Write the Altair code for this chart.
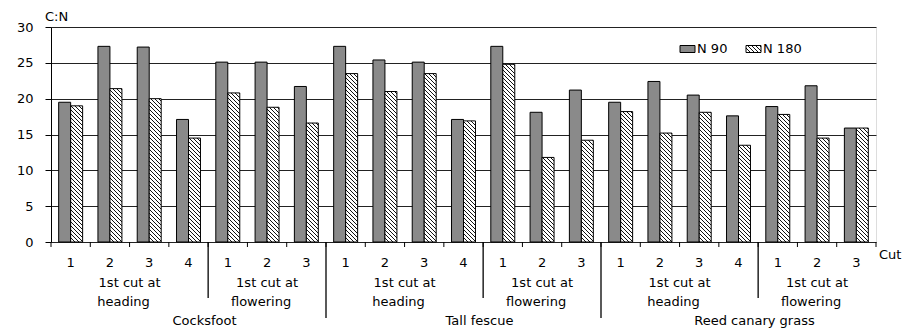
import altair as alt

# ---------------- data ----------------
species_names = ["Cocksfoot", "Tall fescue", "Reed canary grass"]
stage_names = ["heading", "flowering"]
cuts_per_stage = [4, 3]
cut_labels = [1, 2, 3, 4, 1, 2, 3] * 3
n90 = [19.5, 27.3, 27.2, 17.1, 25.1, 25.1, 21.7,
       27.3, 25.4, 25.1, 17.1, 27.3, 18.1, 21.2,
       19.5, 22.4, 20.5, 17.6, 18.9, 21.8, 15.9]
n180 = [19.0, 21.4, 20.0, 14.5, 20.8, 18.8, 16.6,
        23.5, 21.0, 23.5, 16.9, 24.8, 11.8, 14.2,
        18.2, 15.2, 18.1, 13.5, 17.8, 14.5, 15.9]
series = ["N 90", "N 180"]
y_ticks = [0, 5, 10, 15, 20, 25, 30]

# ---------------- layout ----------------
W, H = 825, 215
NG = len(n90)
P_IN = 0.39
FONT = "DejaVu Sans"
FS = 13
BLACK = "#000000"
N90_FILL = "#8a8a8a"

step = W / NG
bar_w = step * (1 - P_IN) / 2


def hatch(w, h, period=4.0, line=1.0):
    """Linear gradient emulating '\\' hatching inside a w x h box."""
    tot = w + h
    stops = []
    k = 0.0
    while k < tot:
        a = k / tot
        b = min((k + line) / tot, 1.0)
        stops += [{"offset": a, "color": "white"}, {"offset": a, "color": "#111111"},
                  {"offset": b, "color": "#111111"}, {"offset": b, "color": "white"}]
        k += period
    alpha = tot / (w * w + h * h)
    return {"gradient": "linear", "x1": 0, "y1": 1,
            "x2": alpha * w, "y2": 1 - alpha * h, "stops": stops}


bars = []
for i in range(NG):
    key = f"g{i:02d}"
    bars.append({"key": key, "series": series[0], "value": n90[i], "fill": N90_FILL})
    bars.append({"key": key, "series": series[1], "value": n180[i],
                 "fill": hatch(bar_w, n180[i] / 30 * H)})

keys = [f"g{i:02d}" for i in range(NG)]

xq = alt.Scale(domain=[0, NG], range=[0, W], nice=False, zero=False)

bar_layer = alt.Chart(alt.Data(values=bars)).mark_bar(
    stroke=BLACK, strokeWidth=1
).encode(
    x=alt.X("key:N", sort=keys, axis=None,
            scale=alt.Scale(paddingInner=P_IN, paddingOuter=P_IN / 2)),
    xOffset=alt.XOffset("series:N", sort=series,
                        scale=alt.Scale(domain=series, paddingInner=0, paddingOuter=0)),
    y=alt.Y("value:Q", scale=alt.Scale(domain=[0, 30], nice=False),
            axis=alt.Axis(values=y_ticks, grid=True, gridColor="#222222", gridWidth=1,
                          domainColor=BLACK, tickColor=BLACK, tickSize=6, labelPadding=12,
                          labelFont=FONT, labelFontSize=FS, labelColor=BLACK, title=None)),
    fill=alt.Fill("fill:N", scale=None),
)

# small ticks at every group boundary below the axis
bounds = [{"b": i} for i in range(NG + 1)]
tick_layer = alt.Chart(alt.Data(values=bounds)).mark_rule(color=BLACK).encode(
    x=alt.X("b:Q", scale=xq, axis=None), y=alt.value(H), y2=alt.value(H + 5))

# separators
stage_bounds, species_bounds = [], []
pos = 0
for s in species_names:
    for si, n in enumerate(cuts_per_stage):
        pos += n
        if si == 0:
            stage_bounds.append({"b": pos})
        elif pos < NG:
            species_bounds.append({"b": pos})
stage_sep = alt.Chart(alt.Data(values=stage_bounds)).mark_rule(color=BLACK, strokeWidth=1.3).encode(
    x=alt.X("b:Q", scale=xq, axis=None), y=alt.value(H), y2=alt.value(H + 56))
species_sep = alt.Chart(alt.Data(values=species_bounds)).mark_rule(color=BLACK, strokeWidth=1.3).encode(
    x=alt.X("b:Q", scale=xq, axis=None), y=alt.value(H), y2=alt.value(H + 76))

# cut number labels
cut_rows = [{"p": i + 0.5, "t": str(c)} for i, c in enumerate(cut_labels)]
cut_text = alt.Chart(alt.Data(values=cut_rows)).mark_text(
    font=FONT, fontSize=FS, color=BLACK, baseline="middle").encode(
    x=alt.X("p:Q", scale=xq, axis=None), y=alt.value(H + 21), text="t:N")

# stage labels
stage_rows = []
pos = 0
for s in species_names:
    for si, n in enumerate(cuts_per_stage):
        stage_rows.append({"p": pos + n / 2, "a": "1st cut at", "b": stage_names[si]})
        pos += n
stage_a = alt.Chart(alt.Data(values=stage_rows)).mark_text(
    font=FONT, fontSize=FS, color=BLACK, baseline="middle").encode(
    x=alt.X("p:Q", scale=xq, axis=None), y=alt.value(H + 41), text="a:N")
stage_b = alt.Chart(alt.Data(values=stage_rows)).mark_text(
    font=FONT, fontSize=FS, color=BLACK, baseline="middle", dx=-6).encode(
    x=alt.X("p:Q", scale=xq, axis=None), y=alt.value(H + 60), text="b:N")

# species labels
sp_rows = []
pos = 0
for s in species_names:
    tot = sum(cuts_per_stage)
    sp_rows.append({"p": pos + tot / 2, "t": s})
    pos += tot
sp_text = alt.Chart(alt.Data(values=sp_rows)).mark_text(
    font=FONT, fontSize=FS, color=BLACK, baseline="middle", dx=16).encode(
    x=alt.X("p:Q", scale=xq, axis=None), y=alt.value(H + 79), text="t:N")

# axis titles
cn_title = alt.Chart(alt.Data(values=[{"t": "C:N"}])).mark_text(
    font=FONT, fontSize=FS, color=BLACK, align="left", baseline="middle").encode(
    x=alt.value(-6), y=alt.value(-10), text="t:N")
cut_title = alt.Chart(alt.Data(values=[{"t": "Cut"}])).mark_text(
    font=FONT, fontSize=FS, color=BLACK, align="left", baseline="middle").encode(
    x=alt.value(W + 3), y=alt.value(H + 13), text="t:N")

# legend
leg90 = alt.Chart(alt.Data(values=[{"t": series[0]}])).mark_rect(
    fill=N90_FILL, stroke=BLACK, strokeWidth=1).encode(
    x=alt.value(629), x2=alt.value(644), y=alt.value(18.5), y2=alt.value(25.5))
leg180 = alt.Chart(alt.Data(values=[{"t": series[1]}])).mark_rect(
    fill=hatch(15, 7, period=4.0), stroke=BLACK, strokeWidth=1).encode(
    x=alt.value(695), x2=alt.value(710), y=alt.value(18.5), y2=alt.value(25.5))
leg_text = alt.Chart(alt.Data(values=[{"t": series[0], "x": 646}, {"t": series[1], "x": 712}])).mark_text(
    font=FONT, fontSize=FS, color=BLACK, align="left", baseline="middle").encode(
    x=alt.X("x:Q", scale=None), y=alt.value(22), text="t:N")

chart = alt.layer(
    bar_layer, tick_layer, stage_sep, species_sep, cut_text, stage_a, stage_b,
    sp_text, cn_title, cut_title, leg90, leg180, leg_text
).resolve_scale(x="independent").properties(
    width=W, height=H, autosize="none",
    padding={"left": 43, "top": 19, "right": 911 - 16 - 43 - W, "bottom": 333 - 8 - 19 - H},
).configure_view(stroke=None).configure(background="white")

chart.save("out.html", embed_options={"renderer": "svg", "actions": False})
